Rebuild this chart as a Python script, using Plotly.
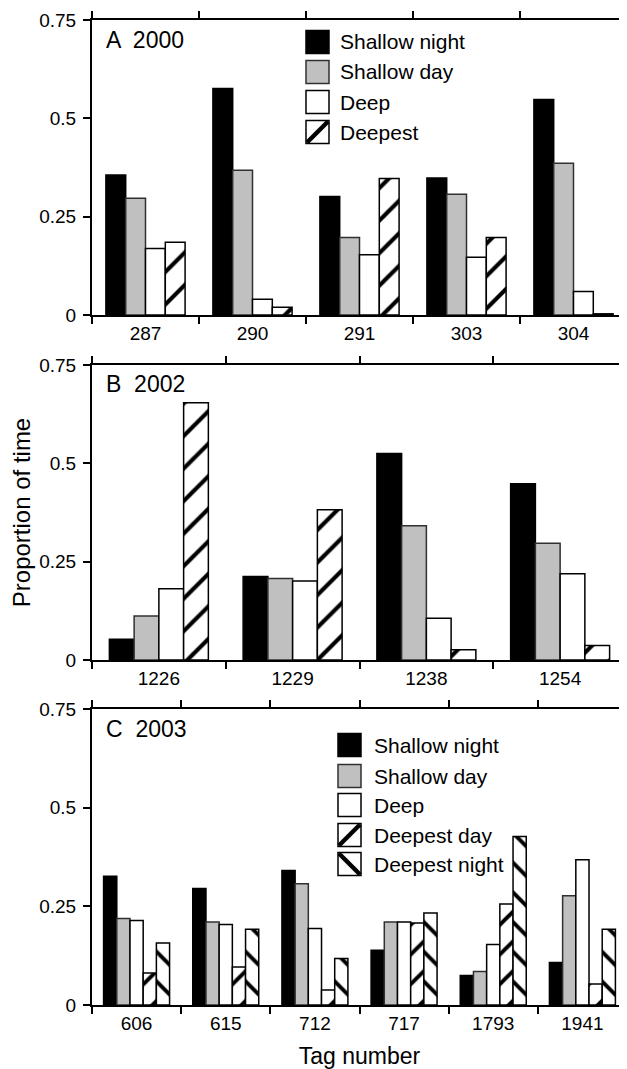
import plotly.graph_objects as go

# ---------------- data ----------------
tags_2000 = ["287", "290", "291", "303", "304"]
sn_2000 = [0.356, 0.576, 0.301, 0.348, 0.548]
sd_2000 = [0.297, 0.368, 0.197, 0.307, 0.386]
dp_2000 = [0.169, 0.040, 0.153, 0.147, 0.060]
dpst_2000 = [0.185, 0.020, 0.347, 0.197, 0.003]

tags_2002 = ["1226", "1229", "1238", "1254"]
sn_2002 = [0.053, 0.212, 0.525, 0.448]
sd_2002 = [0.112, 0.207, 0.341, 0.297]
dp_2002 = [0.181, 0.201, 0.106, 0.219]
dpst_2002 = [0.654, 0.382, 0.026, 0.037]

tags_2003 = ["606", "615", "712", "717", "1793", "1941"]
sn_2003 = [0.326, 0.295, 0.341, 0.139, 0.075, 0.108]
sd_2003 = [0.219, 0.210, 0.307, 0.210, 0.085, 0.277]
dp_2003 = [0.214, 0.204, 0.194, 0.210, 0.153, 0.368]
dd_2003 = [0.081, 0.096, 0.038, 0.208, 0.256, 0.053]
dn_2003 = [0.157, 0.192, 0.118, 0.233, 0.427, 0.192]

names_ab = ["Shallow night", "Shallow day", "Deep", "Deepest"]
names_c = ["Shallow night", "Shallow day", "Deep", "Deepest day", "Deepest night"]
y_ticks = [0, 0.25, 0.5, 0.75]
y_ticktext = ["0", "0.25", "0.5", "0.75"]

# ---------------- geometry (page px; the page body has an 8px margin) ----------------
FONT = "Liberation Sans, Arial, sans-serif"
OFF = 8
W, H = 619, 1061
ML, MR, MT, MB = 84, 0, 12, 64
PW, PH = W - ML - MR, H - MT - MB


def px_x(x):
    return (x - OFF - ML) / PW


def px_y(y):
    return (H - MB - (y - OFF)) / PH


styles = {
    "Shallow night": dict(color="black", line=dict(color="black", width=1.5)),
    "Shallow day": dict(color="#c0c0c0", line=dict(color="#303030", width=1.5)),
    "Deep": dict(color="white", line=dict(color="black", width=1.5)),
    "Deepest": dict(color="white", line=dict(color="black", width=1.5),
                    pattern=dict(shape="/", fgcolor="black", bgcolor="white",
                                 size=23, solidity=0.18, fillmode="replace")),
    "Deepest day": dict(color="white", line=dict(color="black", width=1.5),
                        pattern=dict(shape="/", fgcolor="black", bgcolor="white",
                                     size=21, solidity=0.19, fillmode="replace")),
    "Deepest night": dict(color="white", line=dict(color="black", width=1.5),
                          pattern=dict(shape="\\", fgcolor="black", bgcolor="white",
                                       size=21, solidity=0.19, fillmode="replace")),
}

fig = go.Figure()

panels = [
    ("x", "y", tags_2000, names_ab, [sn_2000, sd_2000, dp_2000, dpst_2000]),
    ("x2", "y2", tags_2002, names_ab, [sn_2002, sd_2002, dp_2002, dpst_2002]),
    ("x3", "y3", tags_2003, names_c, [sn_2003, sd_2003, dp_2003, dd_2003, dn_2003]),
]

for xa, ya, tags, names, vals in panels:
    for name, v in zip(names, vals):
        fig.add_trace(go.Bar(x=tags, y=v, name=name, xaxis=xa, yaxis=ya,
                             marker=styles[name], showlegend=False,
                             offsetgroup=name))

domains = [
    [px_y(315), px_y(20)],
    [px_y(660), px_y(365)],
    [px_y(1005), px_y(709)],
]

axis_common_x = dict(
    type="category", tickson="boundaries", ticks="outside", ticklen=7,
    tickwidth=1.5, tickcolor="black", showline=True, linewidth=2,
    linecolor="black", mirror="ticks", showgrid=False, zeroline=False,
    tickfont=dict(family=FONT, size=19, color="black"), automargin=False,
)
axis_common_y = dict(
    range=[0, 0.75], tickvals=y_ticks, ticktext=y_ticktext, ticks="outside",
    ticklen=7, tickwidth=1.5, tickcolor="black", showline=True, linewidth=2,
    linecolor="black", showgrid=False, zeroline=False,
    tickfont=dict(family=FONT, size=19, color="black"),
    ticklabelstandoff=3, automargin=False,
)

layout = dict(
    width=W, height=H,
    margin=dict(l=ML, r=MR, t=MT, b=MB),
    paper_bgcolor="white", plot_bgcolor="white",
    barmode="group", bargap=0.26, bargroupgap=0,
    font=dict(family=FONT, color="black"),
    showlegend=False,
)
for i, (xa, ya, tags, names, vals) in enumerate(panels):
    sx = "" if i == 0 else str(i + 1)
    layout["xaxis" + sx] = dict(axis_common_x, anchor="y" + sx, domain=[0, 1],
                                range=[-0.5, len(tags) - 0.5])
    layout["yaxis" + sx] = dict(axis_common_y, anchor="x" + sx, domain=domains[i])

layout["yaxis2"]["title"] = dict(text="Proportion of time",
                                 font=dict(family=FONT, size=24, color="black"),
                                 standoff=4)
layout["xaxis3"]["title"] = dict(text="Tag number",
                                 font=dict(family=FONT, size=23, color="black"),
                                 standoff=20)
fig.update_layout(**layout)

# ---------------- panel labels ----------------
for txt, yc in [("A  2000", 40), ("B  2002", 384), ("C  2003", 729)]:
    fig.add_annotation(text=txt, xref="paper", yref="paper",
                       x=px_x(104), y=px_y(yc), xanchor="left", yanchor="middle",
                       showarrow=False, font=dict(family=FONT, size=23, color="black"))


# ---------------- legends (drawn) ----------------
def legend(entries, box_x, text_x, rows):
    bw = 23
    for name, yc in zip(entries, rows):
        st = styles[name]
        x0, x1 = box_x, box_x + bw
        y0, y1 = yc - bw / 2, yc + bw / 2
        fig.add_shape(type="rect", xref="paper", yref="paper",
                      x0=px_x(x0), x1=px_x(x1), y0=px_y(y1), y1=px_y(y0),
                      fillcolor=st["color"],
                      line=dict(color=st["line"]["color"], width=1.5))
        pat = st.get("pattern")
        if pat:
            if pat["shape"] == "/":
                lx0, ly0, lx1, ly1 = x0 + 1, y1 - 1, x1 - 1, y0 + 1
            else:
                lx0, ly0, lx1, ly1 = x0 + 1, y0 + 1, x1 - 1, y1 - 1
            fig.add_shape(type="line", xref="paper", yref="paper",
                          x0=px_x(lx0), y0=px_y(ly0), x1=px_x(lx1), y1=px_y(ly1),
                          line=dict(color="black", width=4.5))
        fig.add_annotation(text=name, xref="paper", yref="paper",
                           x=px_x(text_x), y=px_y(yc), xanchor="left",
                           yanchor="middle", showarrow=False,
                           font=dict(family=FONT, size=21, color="black"))


legend(names_ab, 306, 338, [42, 72, 102, 132])
legend(names_c, 338, 372, [745, 776, 805, 835, 864])

fig.write_html("out.html")
